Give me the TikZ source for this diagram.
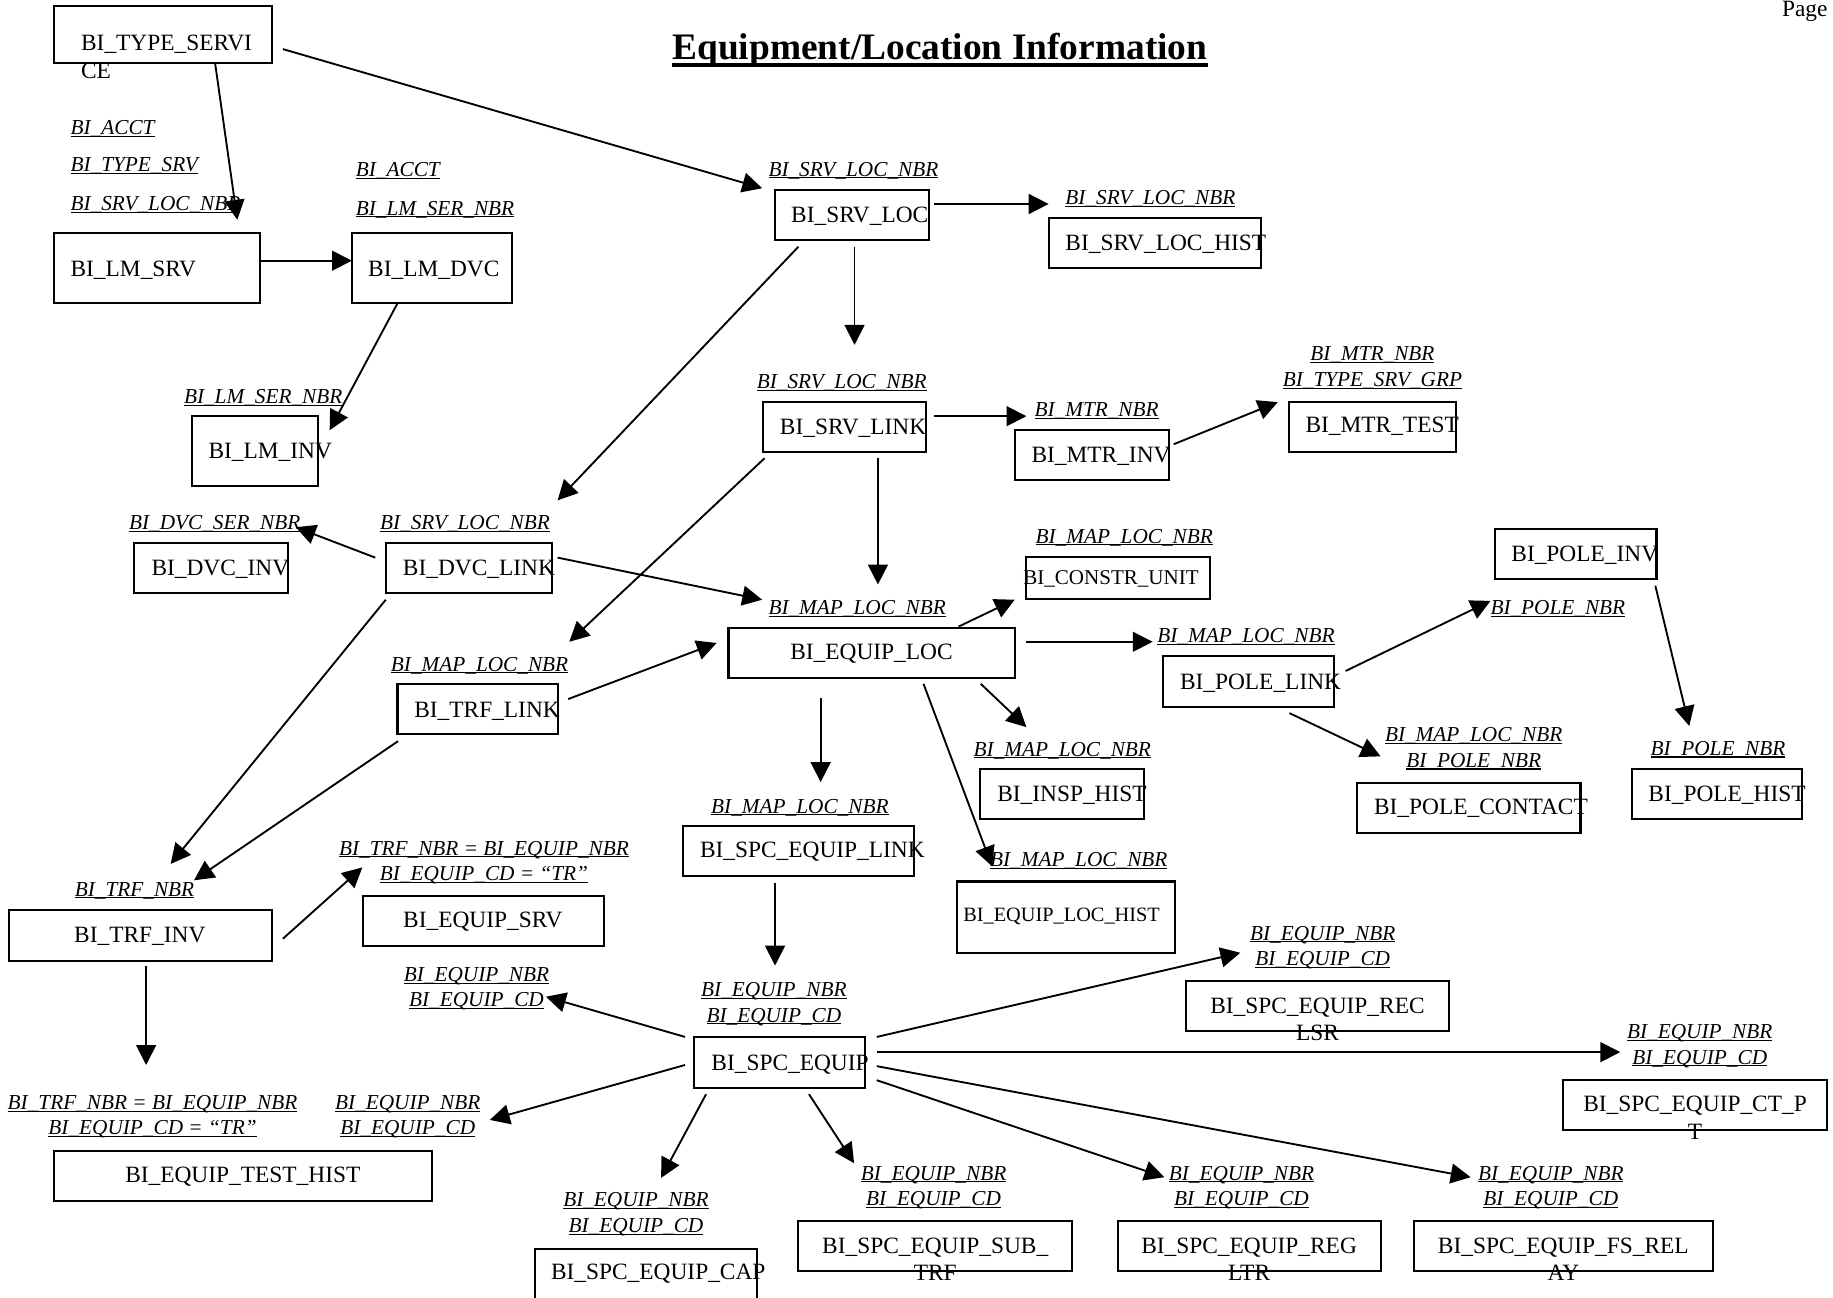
\documentclass[tikz,border=0pt]{standalone}
\usepackage{fontspec}
\setmainfont{Liberation Serif}
\usetikzlibrary{arrows.meta}
\newcommand{\ulx}[1]{\leavevmode\setbox0\hbox{#1}\rlap{\rule[-1.0pt]{\wd0}{0.45pt}}\box0}
\tikzset{
  box/.style={draw, line width=0.9pt, inner sep=0pt, outer sep=0pt},
  btxt/.style={inner sep=0pt, font=\fontsize{10pt}{11.75pt}\selectfont},
  lbl/.style={inner sep=0pt, font=\fontsize{9.1pt}{10.9pt}\selectfont\itshape, align=center},
  arr/.style={line width=0.8pt, -{Triangle[length=8.5pt,width=8.5pt]}},
}
\newcommand{\mkbox}[5]{\node[box,minimum width={(#4-#2)*0.5pt},minimum height={(#5-#3)*0.5pt}] (#1) at ({(#2+#4)/2},{(#3+#5)/2}) {};}
\newcommand{\mktext}[4]{\node[btxt,anchor=base west] (#1-t) at (#2,#3) {#4};}
\newcommand{\mklab}[4]{\node[lbl,anchor=base west] (#1) at (#2,#3) {\ulx{#4}};}
\newcommand{\mklabb}[5]{\node[lbl,anchor=north] (#1) at (#2,#3) {\ulx{#4}\\\ulx{#5}};}
\newcommand{\mkarrow}[3]{\coordinate (#1-s) at (#2); \coordinate (#1-e) at (#3); \draw[arr] (#1-s) -- (#1-e);}
\begin{document}
\begin{tikzpicture}[x=0.5pt,y=-0.5pt]
\fill[white] (0,0) rectangle (1568,1110);
\useasboundingbox (0,0) rectangle (1568,1110);

% title and page
\node[inner sep=0pt, anchor=base, font=\fontsize{16pt}{19pt}\selectfont\bfseries] (title) at (804,50.7) {Equipment/Location Information};
\draw[line width=1.45pt] ([yshift=-2.45pt]title.base west) -- ([yshift=-2.45pt]title.base east);
\node[btxt, anchor=base west] (page) at (1524,14.5) {Page};

% boxes
\mkbox{tsv}{46}{5}{233}{54}
\mkbox{lmsrv}{46.5}{199}{222.6}{259.5}
\mkbox{lmdvc}{301}{199}{438}{259.5}
\mkbox{lminv}{164}{356}{272}{416}
\mkbox{srvloc}{662.6}{162.5}{794.5}{205.3}
\mkbox{srvhist}{897.4}{186.8}{1078.4}{229.5}
\mkbox{srvlink}{653}{343.6}{792}{386.4}
\mkbox{mtrinv}{868.3}{367.8}{999.8}{410.6}
\mkbox{mtrtest}{1102.5}{343.6}{1245.8}{386.4}
\mkbox{dvcinv}{115}{464.2}{246.2}{507.6}
\mkbox{dvclink}{330.5}{464.2}{472.5}{507.6}
\mkbox{constr}{877.9}{476.2}{1034.7}{512.7}
\mkbox{eqloc}{623.2}{537}{868.3}{580.3}
\mkbox{trflink}{340}{585}{477}{628}
\mkbox{poleinv}{1278.6}{452.5}{1417}{495.3}
\mkbox{polelink}{995}{561}{1141}{604.5}
\mkbox{insp}{838.5}{657.8}{978.6}{700.6}
\mkbox{polecon}{1161}{669.5}{1352}{712.8}
\mkbox{polehist}{1396}{657.8}{1541.7}{700.6}
\mkbox{spclink}{584.3}{706.3}{781.8}{749.3}
\mkbox{eqlochist}{819}{754}{1005}{815}
\mkbox{trfinv}{7.4}{778.4}{232.7}{821.8}
\mkbox{eqsrv}{310.5}{766.5}{516.5}{809}
\mkbox{rec}{1014.4}{839.2}{1239.6}{882}
\mkbox{spc}{594}{886.8}{740.2}{930.5}
\mkbox{ctpt}{1337.3}{924}{1563}{966.7}
\mkbox{testhist}{46.3}{984.3}{369.4}{1027.4}
\mkbox{cap}{458}{1068.4}{647.3}{1125}
\mkbox{subtrf}{682.5}{1044.5}{916.9}{1087.3}
\mkbox{regltr}{956.5}{1044.5}{1181}{1087.3}
\mkbox{fsrelay}{1209.6}{1044.5}{1465}{1087.3}

% box texts
\node[btxt, anchor=north west, align=left] (tsv-t) at (69,29.9) {BI\_TYPE\_SERVI\\CE};
\mktext{lmsrv}{60}{236.1}{BI\_LM\_SRV}
\mktext{lmdvc}{314.6}{236.1}{BI\_LM\_DVC}
\mktext{lminv}{178}{392.6}{BI\_LM\_INV}
\mktext{srvloc}{676.4}{190.6}{BI\_SRV\_LOC}
\mktext{srvhist}{911}{214.6}{BI\_SRV\_LOC\_HIST}
\mktext{srvlink}{666.8}{371.6}{BI\_SRV\_LINK}
\mktext{mtrinv}{882}{395.6}{BI\_MTR\_INV}
\mktext{mtrtest}{1116.4}{370.2}{BI\_MTR\_TEST}
\mktext{dvcinv}{129.2}{492.6}{BI\_DVC\_INV}
\mktext{dvclink}{344.3}{492.6}{BI\_DVC\_LINK}
\node[btxt, anchor=base west, font=\fontsize{9pt}{11pt}\selectfont] (constr-t) at (875,500) {BI\_CONSTR\_UNIT};
\node[btxt, anchor=base] (eqloc-t) at (745.5,564.1) {BI\_EQUIP\_LOC};
\mktext{trflink}{354}{614}{BI\_TRF\_LINK}
\mktext{poleinv}{1292.5}{479.9}{BI\_POLE\_INV}
\mktext{polelink}{1009}{589.6}{BI\_POLE\_LINK}
\mktext{insp}{852.7}{685.2}{BI\_INSP\_HIST}
\mktext{polecon}{1175}{696.6}{BI\_POLE\_CONTACT}
\mktext{polehist}{1409.7}{685.2}{BI\_POLE\_HIST}
\mktext{spclink}{598.4}{733.6}{BI\_SPC\_EQUIP\_LINK}
\node[btxt, anchor=base west, font=\fontsize{8.7pt}{10.5pt}\selectfont] (eqlochist-t) at (823.6,788.5) {BI\_EQUIP\_LOC\_HIST};
\node[btxt, anchor=base] (trfinv-t) at (119.6,806.6) {BI\_TRF\_INV};
\node[btxt, anchor=base] (eqsrv-t) at (413,793.6) {BI\_EQUIP\_SRV};
\node[btxt, anchor=north, align=center] (rec-t) at (1127,853.1) {BI\_SPC\_EQUIP\_REC\\LSR};
\mktext{spc}{608.2}{915.3}{BI\_SPC\_EQUIP}
\node[btxt, anchor=north, align=center] (ctpt-t) at (1450,937.2) {BI\_SPC\_EQUIP\_CT\_P\\T};
\node[btxt, anchor=base] (testhist-t) at (207.7,1011.2) {BI\_EQUIP\_TEST\_HIST};
\mktext{cap}{471}{1094.6}{BI\_SPC\_EQUIP\_CAP}
\node[btxt, anchor=north, align=center] (subtrf-t) at (800,1058.4) {BI\_SPC\_EQUIP\_SUB\_\\TRF};
\node[btxt, anchor=north, align=center] (regltr-t) at (1068.5,1058.4) {BI\_SPC\_EQUIP\_REG\\LTR};
\node[btxt, anchor=north, align=center] (fsrelay-t) at (1337.3,1058.4) {BI\_SPC\_EQUIP\_FS\_REL\\AY};

% labels
\mklab{l1}{60}{115}{BI\_ACCT}
\mklab{l2}{60}{147}{BI\_TYPE\_SRV}
\mklab{l3}{60}{180}{BI\_SRV\_LOC\_NBR}
\mklab{l4}{304}{151}{BI\_ACCT}
\mklab{l5}{304}{184}{BI\_LM\_SER\_NBR}
\mklab{l6}{157}{345}{BI\_LM\_SER\_NBR}
\mklab{l7}{657}{150.6}{BI\_SRV\_LOC\_NBR}
\mklab{l8}{911}{175}{BI\_SRV\_LOC\_NBR}
\mklab{l9}{647}{332.5}{BI\_SRV\_LOC\_NBR}
\mklab{l10}{884.6}{356.7}{BI\_MTR\_NBR}
\mklabb{l11}{1174}{296.4}{BI\_MTR\_NBR}{BI\_TYPE\_SRV\_GRP}
\mklab{l12}{110}{453}{BI\_DVC\_SER\_NBR}
\mklab{l13}{324.7}{453}{BI\_SRV\_LOC\_NBR}
\mklab{l14}{885.5}{464.5}{BI\_MAP\_LOC\_NBR}
\mklab{l15}{657}{525.7}{BI\_MAP\_LOC\_NBR}
\mklab{l16}{989.6}{550}{BI\_MAP\_LOC\_NBR}
\mklab{l17}{1274.6}{525.7}{BI\_POLE\_NBR}
\mklab{l18}{334}{574}{BI\_MAP\_LOC\_NBR}
\mklab{l19}{832.5}{646.7}{BI\_MAP\_LOC\_NBR}
\mklabb{l20}{1260.6}{622}{BI\_MAP\_LOC\_NBR}{BI\_POLE\_NBR}
\mklab{l21}{1411.6}{646}{BI\_POLE\_NBR}
\mklab{l22}{608}{695.5}{BI\_MAP\_LOC\_NBR}
\mklab{l23}{846.6}{741}{BI\_MAP\_LOC\_NBR}
\mklabb{l24}{414}{719}{BI\_TRF\_NBR = BI\_EQUIP\_NBR}{BI\_EQUIP\_CD = “TR”}
\mklab{l25}{63.6}{766.5}{BI\_TRF\_NBR}
\mklabb{l26}{1131.5}{791.7}{BI\_EQUIP\_NBR}{BI\_EQUIP\_CD}
\mklabb{l27}{407.6}{827}{BI\_EQUIP\_NBR}{BI\_EQUIP\_CD}
\mklabb{l28}{662}{840}{BI\_EQUIP\_NBR}{BI\_EQUIP\_CD}
\mklabb{l29}{1454}{876}{BI\_EQUIP\_NBR}{BI\_EQUIP\_CD}
\mklabb{l30}{130.5}{936.6}{BI\_TRF\_NBR = BI\_EQUIP\_NBR}{BI\_EQUIP\_CD = “TR”}
\mklabb{l31}{348.8}{936.6}{BI\_EQUIP\_NBR}{BI\_EQUIP\_CD}
\mklabb{l32}{798.6}{997}{BI\_EQUIP\_NBR}{BI\_EQUIP\_CD}
\mklabb{l33}{1062}{997}{BI\_EQUIP\_NBR}{BI\_EQUIP\_CD}
\mklabb{l34}{1326.6}{997}{BI\_EQUIP\_NBR}{BI\_EQUIP\_CD}
\mklabb{l35}{544}{1020}{BI\_EQUIP\_NBR}{BI\_EQUIP\_CD}

% connectors
\mkarrow{a1}{184,54}{203,188}
\mkarrow{a2}{242,42}{652,161}
\mkarrow{a3}{223,223}{301,223}
\mkarrow{a4}{340,259.5}{282,368}
\mkarrow{a5}{799,174.5}{897,174.5}
\mkarrow{a6}{731,211}{731,295}
\mkarrow{a7}{683,211}{477,428}
\mkarrow{a8}{799,356}{878,356}
\mkarrow{a9}{1004,380}{1093,344}
\mkarrow{a10}{654,392}{487,549}
\mkarrow{a11}{751,392}{751,500}
\mkarrow{a12}{321,477}{253,451}
\mkarrow{a13}{477,477}{652,513}
\mkarrow{a14}{330,513}{146,739}
\mkarrow{a15}{486,598}{613,550}
\mkarrow{a16}{340.5,634}{166,753}
\mkarrow{a17}{820,536}{868,513}
\mkarrow{a18}{878,549}{986,549}
\mkarrow{a19}{839,585}{878,622}
\mkarrow{a20}{790,585}{848.6,741}
\mkarrow{a21}{702,597}{702,669}
\mkarrow{a22}{1151,574}{1275,514}
\mkarrow{a23}{1416,501}{1445,621}
\mkarrow{a24}{1103,610}{1181,647}
\mkarrow{a25}{663,755}{663,826}
\mkarrow{a26}{242,803}{310,742}
\mkarrow{a27}{125,826}{125,911}
\mkarrow{a28}{586,887}{467,852.6}
\mkarrow{a29}{586,911}{419,958}
\mkarrow{a30}{604,936}{565.5,1007.6}
\mkarrow{a31}{692,936}{730.6,995}
\mkarrow{a32}{750,887}{1061,815}
\mkarrow{a33}{750,900}{1386,900}
\mkarrow{a34}{750,912}{1258,1007}
\mkarrow{a35}{750,924}{996,1007}
\end{tikzpicture}
\end{document}
